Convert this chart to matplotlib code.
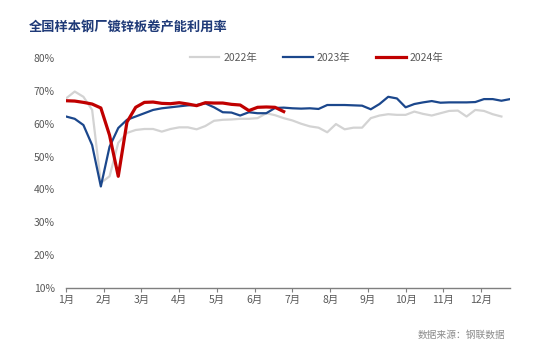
import numpy as np
import matplotlib
matplotlib.use("Agg")
import matplotlib.pyplot as plt

plt.rcParams['font.family'] = ['Noto Sans CJK SC', 'DejaVu Sans']

# weekly capacity utilisation (%)
y2022 = [67.7, 69.8, 68.2, 64.2, 42.0, 44.0, 54.2, 57.2, 58.1, 58.4,
         58.4, 57.6, 58.4, 58.9, 58.9, 58.3, 59.3, 60.9, 61.2, 61.3,
         61.5, 61.5, 61.7, 63.2, 62.6, 61.7, 61.0, 60.0, 59.2, 58.8,
         57.4, 59.9, 58.3, 58.8, 58.8, 61.7, 62.5, 62.9, 62.7, 62.7,
         63.7, 63.0, 62.5, 63.2, 63.9, 64.0, 62.2, 64.2, 63.9, 62.9,
         62.2]
y2023 = [62.2, 61.5, 59.6, 53.5, 40.9, 53.0, 58.7, 61.2, 62.2, 63.2,
         64.2, 64.7, 65.0, 65.3, 65.6, 65.7, 66.2, 65.0, 63.5, 63.4,
         62.5, 63.5, 63.2, 63.2, 64.8, 64.9, 64.7, 64.6, 64.7, 64.5,
         65.7, 65.7, 65.7, 65.6, 65.5, 64.4, 66.0, 68.2, 67.7, 65.0,
         66.0, 66.5, 66.9, 66.4, 66.5, 66.5, 66.5, 66.6, 67.5, 67.5,
         67.0, 67.5]
y2024 = [67.0, 66.9, 66.5, 66.0, 64.8, 56.5, 44.0, 60.5, 65.0, 66.5,
         66.6, 66.2, 66.1, 66.4, 66.0, 65.5, 66.4, 66.3, 66.3, 65.9,
         65.7, 64.0, 65.0, 65.1, 65.0, 63.7]
months = ['1月', '2月', '3月', '4月', '5月', '6月',
          '7月', '8月', '9月', '10月', '11月', '12月']
yticks = [10, 20, 30, 40, 50, 60, 70, 80]

fig = plt.figure(figsize=(5.51, 3.56), dpi=100)
ax = fig.add_axes([0.1198, 0.191, 0.806, 0.646])

ax.plot(np.arange(len(y2022)), y2022, color='#d3d3d3', lw=1.6, label='2022年')
ax.plot(np.arange(len(y2023)), y2023, color='#1b478c', lw=1.6, label='2023年')
ax.plot(np.arange(len(y2024)), y2024, color='#c00000', lw=2.3, label='2024年')

ax.set_xlim(0, 51)
ax.set_ylim(10, 80)
ax.set_yticks(yticks)
ax.set_yticklabels([f'{v}%' for v in yticks])
ax.set_xticks([i * 52 / 12 for i in range(12)])
ax.set_xticklabels(months)

for s in ['top', 'right', 'left']:
    ax.spines[s].set_visible(False)
ax.spines['bottom'].set_color('#7f7f7f')
ax.spines['bottom'].set_linewidth(1.0)
ax.tick_params(axis='y', length=0, labelsize=7.5, colors='#595959', pad=8)
ax.tick_params(axis='x', length=3, direction='out', color='#7f7f7f',
               labelsize=7.5, labelcolor='#595959', pad=2)

ax.legend(loc='upper center', bbox_to_anchor=(0.565, 1.065), ncol=3,
          frameon=False, fontsize=7.5, labelcolor='#595959',
          handlelength=2.8, columnspacing=2.5, handletextpad=0.4)

fig.text(0.052, 0.912, '全国样本钢厂镀锌板卷产能利用率', fontsize=9.5,
         fontweight='bold', color='#1f3a78')
fig.text(0.917, 0.05, '数据来源：钢联数据', fontsize=7, color='#8c8c8c',
         ha='right')

fig.savefig('out.png', dpi=100)
